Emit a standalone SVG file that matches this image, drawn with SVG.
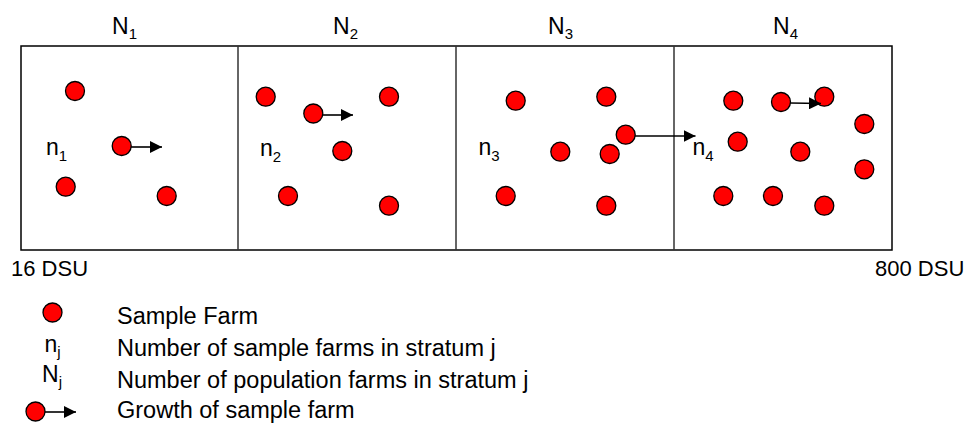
<svg xmlns="http://www.w3.org/2000/svg" width="967" height="423" viewBox="0 0 967 423">
<style>
text{font-family:"Liberation Sans",Arial,sans-serif;font-size:23px;fill:#000}
.sub{font-size:15px}
.leg{font-size:23.5px}
.dsu{font-size:22px}
.farm{fill:#ff0000;stroke:#000;stroke-width:1.3}
.box{fill:none;stroke:#000;stroke-width:1.5}
.div{stroke:#333;stroke-width:1.5}
.arr{stroke:#000;stroke-width:1.6;fill:none;marker-end:url(#head)}
</style>
<defs>
<marker id="head" viewBox="0 0 12 12" refX="12" refY="6" markerWidth="12" markerHeight="12" markerUnits="userSpaceOnUse" orient="auto">
<path d="M0,0 L12,6 L0,12 Z" fill="#000"/>
</marker>
</defs>
<rect class="box" x="21" y="46" width="871" height="204"/>
<g id="stratum1">
<text x="112" y="34">N<tspan class="sub" dy="5">1</tspan></text>
<text x="46" y="155">n<tspan class="sub" dy="6">1</tspan></text>
<circle class="farm" cx="75" cy="91" r="9.5"/>
<circle class="farm" cx="65.7" cy="186.7" r="9.5"/>
<circle class="farm" cx="166.7" cy="196" r="9.5"/>
</g>
<g id="stratum2">
<line class="div" x1="238" y1="46" x2="238" y2="250"/>
<text x="333" y="34">N<tspan class="sub" dy="5">2</tspan></text>
<text x="260" y="156">n<tspan class="sub" dy="6">2</tspan></text>
<circle class="farm" cx="265.7" cy="96.7" r="9.5"/>
<circle class="farm" cx="389" cy="96.7" r="9.5"/>
<circle class="farm" cx="342.3" cy="151" r="9.5"/>
<circle class="farm" cx="288" cy="196" r="9.5"/>
<circle class="farm" cx="389" cy="205.7" r="9.5"/>
</g>
<g id="stratum3">
<line class="div" x1="456" y1="46" x2="456" y2="250"/>
<text x="548" y="34">N<tspan class="sub" dy="5">3</tspan></text>
<text x="478.5" y="155">n<tspan class="sub" dy="6">3</tspan></text>
<circle class="farm" cx="515.7" cy="100.7" r="9.5"/>
<circle class="farm" cx="606.3" cy="96.7" r="9.5"/>
<circle class="farm" cx="560.3" cy="151.7" r="9.5"/>
<circle class="farm" cx="609.7" cy="154" r="9.5"/>
<circle class="farm" cx="505.7" cy="196" r="9.5"/>
<circle class="farm" cx="606.3" cy="205.7" r="9.5"/>
</g>
<g id="stratum4">
<line class="div" x1="674" y1="46" x2="674" y2="250"/>
<text x="773" y="34">N<tspan class="sub" dy="5">4</tspan></text>
<text x="692.5" y="155">n<tspan class="sub" dy="6">4</tspan></text>
<circle class="farm" cx="733.3" cy="100.7" r="9.5"/>
<circle class="farm" cx="824.3" cy="96.7" r="9.5"/>
<circle class="farm" cx="864.3" cy="124" r="9.5"/>
<circle class="farm" cx="737.7" cy="141.7" r="9.5"/>
<circle class="farm" cx="800.3" cy="151.7" r="9.5"/>
<circle class="farm" cx="864.3" cy="169.3" r="9.5"/>
<circle class="farm" cx="723.3" cy="196" r="9.5"/>
<circle class="farm" cx="773" cy="196" r="9.5"/>
<circle class="farm" cx="824.3" cy="205.7" r="9.5"/>
</g>
<g id="growth-sources">
<circle class="farm" cx="121.7" cy="146" r="9.5"/>
<circle class="farm" cx="313.3" cy="113.5" r="9.5"/>
<circle class="farm" cx="625.7" cy="134.7" r="9.5"/>
<circle class="farm" cx="781" cy="102" r="9.5"/>
</g>
<g id="connectors">
<line class="arr" x1="131" y1="147" x2="162" y2="147"/>
<line class="arr" x1="322.5" y1="115" x2="353" y2="115"/>
<line class="arr" x1="635" y1="136" x2="695.5" y2="136"/>
<line class="arr" x1="790" y1="103" x2="821" y2="103.5"/>
</g>
<g id="axis">
<text class="dsu" x="11" y="276">16 DSU</text>
<text class="dsu" x="875" y="276">800 DSU</text>
</g>
<g id="legend">
<circle class="farm" cx="52.5" cy="312.5" r="9.5"/>
<text class="leg" x="117" y="324">Sample Farm</text>
<text x="44.5" y="352">n<tspan class="sub" dy="5">j</tspan></text>
<text class="leg" x="117" y="356">Number of sample farms in stratum j</text>
<text x="42" y="382">N<tspan class="sub" dy="5">j</tspan></text>
<text class="leg" x="117" y="388">Number of population farms in stratum j</text>
<line class="arr" x1="45" y1="412" x2="76" y2="412"/>
<circle class="farm" cx="35.5" cy="411.5" r="9.5"/>
<text class="leg" x="117" y="418">Growth of sample farm</text>
</g>
</svg>
